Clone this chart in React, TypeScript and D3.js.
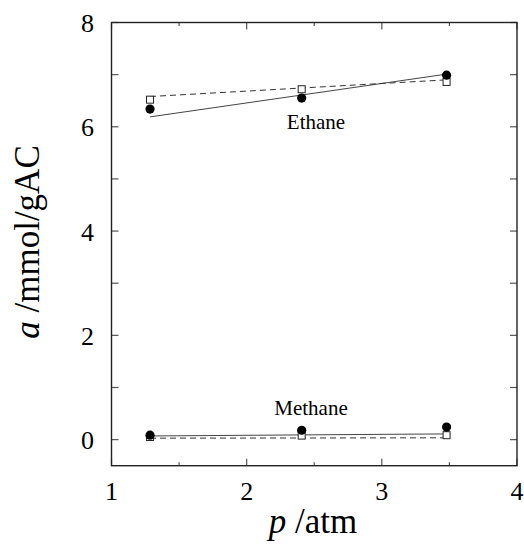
import React from "react";
import * as d3 from "d3";

const pressure = [1.285, 2.407, 3.479];
const ethaneExp = [6.34, 6.55, 6.99];
const ethaneSim = [6.52, 6.72, 6.86];
const methaneExp = [0.085, 0.18, 0.24];
const methaneSim = [0.05, 0.077, 0.085];
const fitX = [1.285, 3.479];
const ethaneFitSolid = [6.19, 7.01];
const ethaneFitDashed = [6.58, 6.9];
const methaneFitSolid = [0.07, 0.11];
const methaneFitDashed = [0.028, 0.035];
const xTickLabels = [1, 2, 3, 4];
const xMinorTicks = [1.5, 2.5, 3.5];
const yTickLabels = [0, 2, 4, 6, 8];
const yMinorTicks = [1, 3, 5, 7];

const W = 524, H = 548;
const L = 111.5, R = 517, T = 22.5, B = 465.7;
const FONT = "'Liberation Serif', 'Times New Roman', serif";

export default function App() {
  const x = d3.scaleLinear().domain([1, 4]).range([L, R]);
  const y = d3.scaleLinear().domain([-0.5, 8]).range([B, T]);
  const line = d3.line<[number, number]>().x(d => x(d[0])).y(d => y(d[1]));
  const fit = (vals: number[]) => line(fitX.map((v, i) => [v, vals[i]] as [number, number])) || "";

  const tickColor = "#555";
  return (
    <svg width={W} height={H} style={{ position: "absolute", left: 0, top: 0, background: "#fff" }}>
      {/* ticks */}
      {xTickLabels.map(v => (
        <g key={"xt" + v}>
          <line x1={x(v)} x2={x(v)} y1={B} y2={B - 7} stroke={tickColor} strokeWidth={1.2} />
          <line x1={x(v)} x2={x(v)} y1={T} y2={T + 7} stroke={tickColor} strokeWidth={1.2} />
          <text x={x(v)} y={500} textAnchor="middle" fontFamily={FONT} fontSize={26}>{v}</text>
        </g>
      ))}
      {xMinorTicks.map(v => (
        <g key={"xm" + v}>
          <line x1={x(v)} x2={x(v)} y1={B} y2={B - 3.5} stroke={tickColor} strokeWidth={1.2} />
          <line x1={x(v)} x2={x(v)} y1={T} y2={T + 3.5} stroke={tickColor} strokeWidth={1.2} />
        </g>
      ))}
      {yTickLabels.map(v => (
        <g key={"yt" + v}>
          <line x1={L} x2={L + 7} y1={y(v)} y2={y(v)} stroke={tickColor} strokeWidth={1.2} />
          <line x1={R} x2={R - 7} y1={y(v)} y2={y(v)} stroke={tickColor} strokeWidth={1.2} />
          <text x={94} y={y(v) + 9.5} textAnchor="end" fontFamily={FONT} fontSize={26}>{v}</text>
        </g>
      ))}
      {yMinorTicks.map(v => (
        <g key={"ym" + v}>
          <line x1={L} x2={L + 7} y1={y(v)} y2={y(v)} stroke={tickColor} strokeWidth={1.2} />
          <line x1={R} x2={R - 7} y1={y(v)} y2={y(v)} stroke={tickColor} strokeWidth={1.2} />
        </g>
      ))}
      <rect x={L} y={T} width={R - L} height={B - T} fill="none" stroke="#222" strokeWidth={1.4} />

      {/* fit lines */}
      <path d={fit(ethaneFitSolid)} fill="none" stroke="#444" strokeWidth={1} />
      <path d={fit(ethaneFitDashed)} fill="none" stroke="#333" strokeWidth={1} strokeDasharray="6,4" />
      <path d={fit(methaneFitSolid)} fill="none" stroke="#444" strokeWidth={1} />
      <path d={fit(methaneFitDashed)} fill="none" stroke="#333" strokeWidth={1} strokeDasharray="6,4" />

      {/* squares */}
      {pressure.map((p, i) => (
        <g key={"sq" + i}>
          <rect x={x(p) - 3.5} y={y(ethaneSim[i]) - 3.5} width={7} height={7} fill="#fff" stroke="#222" strokeWidth={1} />
          <rect x={x(p) - 3.5} y={y(methaneSim[i]) - 3.5} width={7} height={7} fill="#fff" stroke="#222" strokeWidth={1} />
        </g>
      ))}
      {/* circles */}
      {pressure.map((p, i) => (
        <g key={"c" + i}>
          <circle cx={x(p)} cy={y(ethaneExp[i])} r={4.6} fill="#000" />
          <circle cx={x(p)} cy={y(methaneExp[i])} r={4.6} fill="#000" />
        </g>
      ))}

      <text x={316} y={128.5} textAnchor="middle" fontFamily={FONT} fontSize={21}>Ethane</text>
      <text x={311} y={415} textAnchor="middle" fontFamily={FONT} fontSize={21}>Methane</text>

      <text x={313} y={533} textAnchor="middle" fontFamily={FONT} fontSize={35}>
        <tspan fontStyle="italic">p</tspan> /atm
      </text>
      <text transform={`translate(38.5,242) rotate(-90)`} textAnchor="middle" fontFamily={FONT} fontSize={35}>
        <tspan fontStyle="italic">a</tspan> /mmol/gAC
      </text>
    </svg>
  );
}
